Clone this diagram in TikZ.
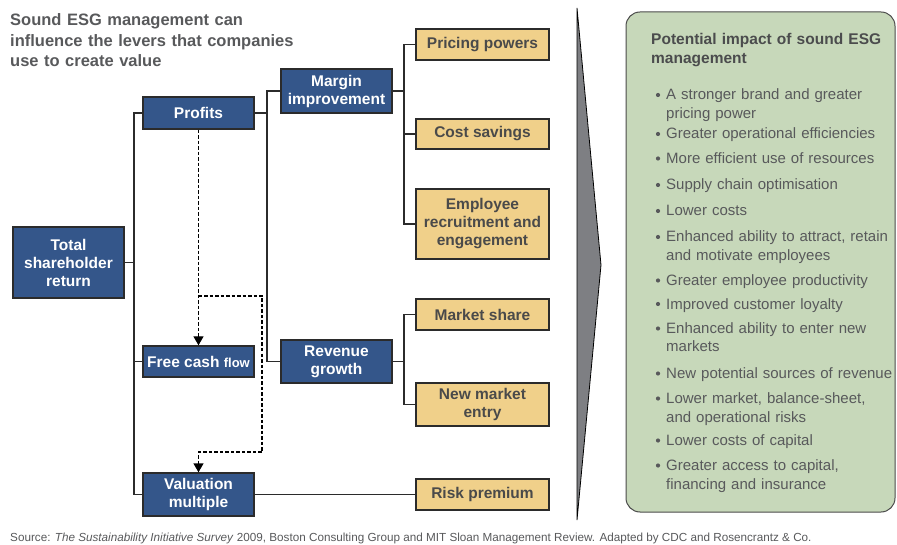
\documentclass[tikz,border=0pt]{standalone}
\usepackage{fontspec}
\setmainfont{Liberation Sans}
\usetikzlibrary{arrows.meta}
\definecolor{blueF}{HTML}{34568A}
\definecolor{tanF}{HTML}{F0D08A}
\definecolor{greenF}{HTML}{C7D8BA}
\definecolor{greyC}{HTML}{7E7F83}
\definecolor{txtG}{HTML}{58595B}
\definecolor{tanT}{HTML}{4A4A4A}
\definecolor{lineC}{HTML}{2B2B2B}
\begin{document}
\begin{tikzpicture}[x=1pt,y=-1pt,
 box/.style={draw=lineC, line width=1.4pt, inner sep=0pt, align=center, font=\fontsize{15.5}{18}\selectfont\bfseries},
 bluebox/.style={box, fill=blueF, text=white, minimum width=111pt},
 tanbox/.style={box, fill=tanF, text=tanT, minimum width=133pt},
 conn/.style={draw=lineC, line width=1.4pt},
 dashconn/.style={draw=black, line width=1.4pt, dash pattern=on 3.5pt off 2pt, -{Triangle[length=9pt,width=10pt]}},
 item/.style={anchor=base west, align=left, inner sep=0pt, text width=232pt, text=txtG, font=\fontsize{15}{18.5}\selectfont},
]
\useasboundingbox (0,0) rectangle (897,545);

% title
\node[anchor=base west, inner sep=0pt, align=left, text width=300pt, text=txtG,
  font=\fontsize{16.5}{20.5}\selectfont\bfseries] (title) at (10,26)
  {Sound ESG management can\\influence the levers that companies\\use to create value};

% boxes
\node[bluebox, minimum height=71pt] (tsr) at (68.5,262.5) {Total\\shareholder\\return};
\node[bluebox, minimum height=32pt] (profits) at (198.5,113) {Profits};
\node[bluebox, minimum height=31pt] (fcf) at (198.5,361.5) {Free cash {\fontsize{13}{15}\selectfont flow}};
\node[bluebox, minimum height=43pt] (val) at (198.5,494.5) {Valuation\\multiple};
\node[bluebox, minimum height=44pt] (margin) at (336.5,91) {Margin\\improvement};
\node[bluebox, minimum height=43pt] (revenue) at (336.5,361.5) {Revenue\\growth};

\node[tanbox, minimum height=31pt] (pricing) at (482.5,44.5) {Pricing powers};
\node[tanbox, minimum height=30pt] (cost) at (482.5,134) {Cost savings};
\node[tanbox, minimum height=70pt] (employee) at (482.5,224) {Employee\\recruitment and\\engagement};
\node[tanbox, minimum height=31pt] (market) at (482.5,314.5) {Market share};
\node[tanbox, minimum height=43pt] (newmarket) at (482.5,404.5) {New market\\entry};
\node[tanbox, minimum height=31pt] (risk) at (482.5,494.5) {Risk premium};

% tree connectors
\coordinate (b1t) at (134,113);
\coordinate (b1b) at (134,494.5);
\draw[conn] (profits.west) -- (b1t) -- (b1b) -- (val.west);
\draw[conn] (fcf.west) -- (fcf.west -| b1t);
\draw[conn] (tsr.east) -- (tsr.east -| b1t);

\coordinate (b2t) at (267,91);
\coordinate (b2b) at (267,361.5);
\draw[conn] (margin.west) -- (b2t) -- (b2b) -- (revenue.west);
\draw[conn] (profits.east) -- (profits.east -| b2t);

\coordinate (b3t) at (404,44.5);
\coordinate (b3b) at (404,224);
\draw[conn] (pricing.west) -- (b3t) -- (b3b) -- (employee.west);
\draw[conn] (cost.west) -- (cost.west -| b3t);
\draw[conn] (margin.east) -- (margin.east -| b3t);

\coordinate (b4t) at (404,314.5);
\coordinate (b4b) at (404,404.5);
\draw[conn] (market.west) -- (b4t) -- (b4b) -- (newmarket.west);
\draw[conn] (revenue.east) -- (revenue.east -| b4t);

\draw[conn] (val.east) -- (risk.west);

% dashed flows
\coordinate (d1) at (198.5,296);
\coordinate (d2) at (262,296);
\coordinate (d3) at (262,452);
\coordinate (d4) at (198.5,452);
\draw[dashconn] (profits.south) -- (fcf.north);
\draw[dashconn] (d1) -- (d2) -- (d3) -- (d4) -- (val.north);

% chevron
\draw[fill=greyC, draw=black, line width=0.8pt, line join=miter] (577,8) -- (601,265) -- (577,520) -- cycle;

% green panel
\draw[draw=lineC!85, line width=1pt, fill=greenF, rounded corners=14pt] (626,12) rectangle (895,512);
\node[anchor=base west, inner sep=0pt, align=left, text width=240pt, text=txtG!85!black,
  font=\fontsize{15.5}{18.5}\selectfont\bfseries] (ptitle) at (651,45)
  {Potential impact of sound ESG\\management};

\foreach \nm/\yy/\tx in {
  i1/100/{A stronger brand and greater\\pricing power},
  i2/139/{Greater operational efficiencies},
  i3/163.5/{More efficient use of resources},
  i4/190/{Supply chain optimisation},
  i5/216/{Lower costs},
  i6/242/{Enhanced ability to attract, retain\\and motivate employees},
  i7/285.5/{Greater employee productivity},
  i8/309/{Improved customer loyalty},
  i9/333.5/{Enhanced ability to enter new\\markets},
  i10/378.5/{New potential sources of revenue},
  i11/403.5/{Lower market, balance-sheet,\\and operational risks},
  i12/445.5/{Lower costs of capital},
  i13/470.5/{Greater access to capital,\\financing and insurance}}
{
  \node[item] (\nm) at (666,\yy) {\tx};
  \fill[txtG] (658,\yy-5) circle (2.1pt);
}

% source
\node[anchor=base west, inner sep=0pt, text=txtG, font=\fontsize{11.7}{13}\selectfont] (src) at (10,541)
  {Source: \textit{The Sustainability Initiative Survey} 2009, Boston Consulting Group and MIT Sloan Management Review. Adapted by CDC and Rosencrantz \& Co.};
\end{tikzpicture}
\end{document}
